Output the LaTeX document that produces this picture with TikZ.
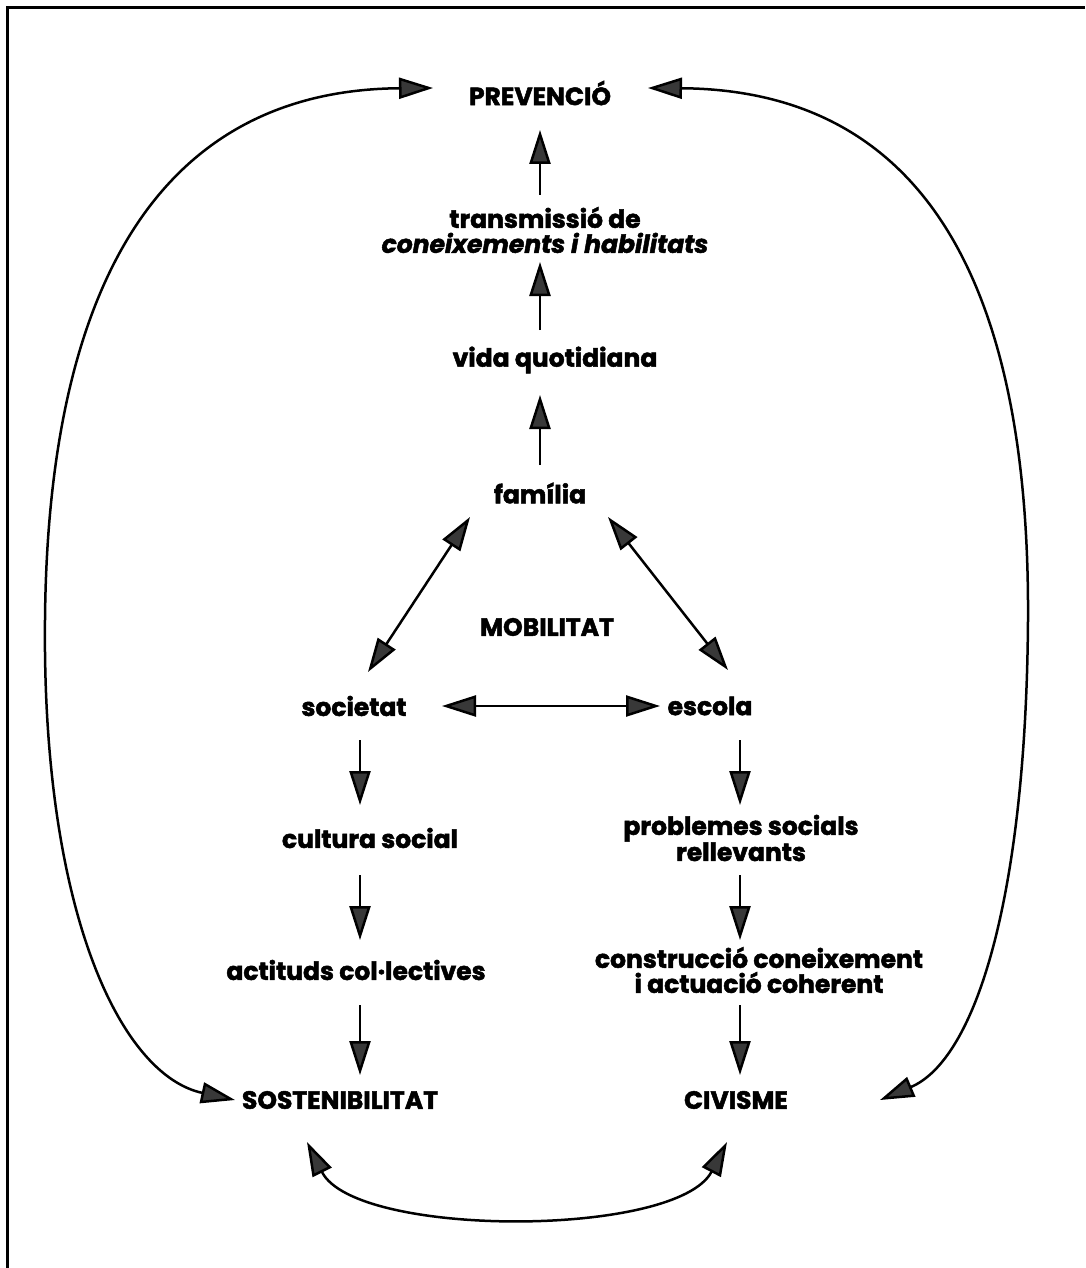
\documentclass[tikz,border=0pt]{standalone}
\usepackage{fontspec}
\setmainfont{Poppins}[BoldFeatures={FakeBold=2},BoldItalicFeatures={FakeBold=2}]
\usetikzlibrary{arrows.meta}
\tikzset{
  lbl/.style={font=\fontsize{25}{25}\selectfont\bfseries, inner sep=0pt, align=center},
  arr/.style={line width=2.5pt, -{Triangle[length=34pt,width=21pt,fill=black!78]}},
  darr/.style={line width=2.5pt, {Triangle[length=34pt,width=21pt,fill=black!78]}-{Triangle[length=34pt,width=21pt,fill=black!78]}},
  frame/.style={line width=3pt}
}
\begin{document}
\begin{tikzpicture}[x=1pt,y=-1pt]
\useasboundingbox (0,0) rectangle (1085,1268);
\draw[frame] (1085,8) -- (7,8) -- (7,1268);

\node[lbl] (prev) at (540,93) {PREVENCIÓ};
\node[lbl] (trans) at (545,230) {transmissió de\\\textit{coneixements i habilitats}};
\node[lbl] (vida) at (555,360) {vida quotidiana};
\node[lbl] (fam) at (540,493) {família};
\node[lbl] (mob) at (547,627) {MOBILITAT};
\node[lbl] (soc) at (354,706) {societat};
\node[lbl] (esc) at (710,706) {escola};
\node[lbl] (cult) at (370,838) {cultura social};
\node[lbl] (act) at (356,970) {actituds col·lectives};
\node[lbl] (sost) at (340,1100) {SOSTENIBILITAT};
\node[lbl] (prob) at (741,838) {problemes socials\\rellevants};
\node[lbl] (cons) at (759,970) {construcció coneixement\\i actuació coherent};
\node[lbl] (civ) at (736,1100) {CIVISME};

% centre column
\draw[arr] ([shift={(-5,-35)}]trans.center) -- ([shift={(0,37)}]prev.center);
\draw[arr] ([shift={(-15,-30)}]vida.center) -- ([shift={(-5,32)}]trans.center);
\draw[arr] ([shift={(0,-28)}]fam.center) -- ([shift={(-15,35)}]vida.center);

% triangle
\draw[darr] ([shift={(-70,24)}]fam.center) -- ([shift={(14,-34)}]soc.center);
\draw[darr] ([shift={(68,24)}]fam.center) -- ([shift={(18,-36)}]esc.center);
\draw[darr] ([shift={(88,0)}]soc.center) -- ([shift={(-50,0)}]esc.center);

% left column
\draw[arr] ([shift={(6,34)}]soc.center) -- ([shift={(-10,-33)}]cult.center);
\draw[arr] ([shift={(-10,37)}]cult.center) -- ([shift={(4,-30)}]act.center);
\draw[arr] ([shift={(4,35)}]act.center) -- ([shift={(20,-25)}]sost.center);

% right column
\draw[arr] ([shift={(30,34)}]esc.center) -- ([shift={(-1,-33)}]prob.center);
\draw[arr] ([shift={(-1,37)}]prob.center) -- ([shift={(-19,-30)}]cons.center);
\draw[arr] ([shift={(-19,35)}]cons.center) -- ([shift={(4,-25)}]civ.center);

% big loops
\draw[darr] ([shift={(-107,-5)}]prev.center) .. controls (170,90) and (48,270) .. (45,620)
  .. controls (42,910) and (120,1075) .. ([shift={(-105,0)}]sost.center);
\draw[darr] ([shift={(108,-5)}]prev.center) .. controls (915,90) and (1030,270) .. (1028,620)
  .. controls (1026,900) and (975,1060) .. ([shift={(144,0)}]civ.center);
\draw[darr] ([shift={(-33,42)}]sost.center) .. controls (355,1238) and (677,1238) .. ([shift={(-9,42)}]civ.center);
\end{tikzpicture}
\end{document}
